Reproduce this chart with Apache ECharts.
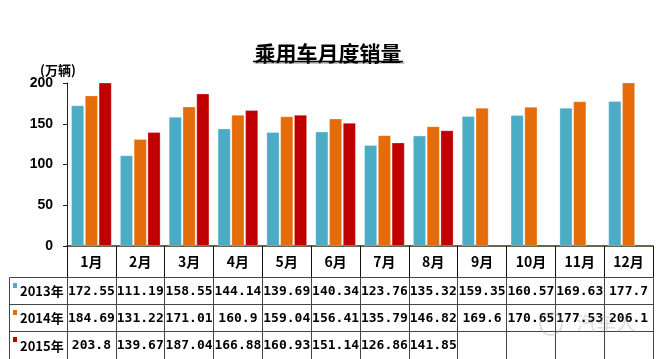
<!DOCTYPE html>
<html>
<head>
<meta charset="utf-8">
<script src="https://cdn.jsdelivr.net/npm/echarts@6/dist/echarts.min.js"></script>
<style>html,body{margin:0;padding:0;background:#fff;}#c{width:656px;height:359px;}</style>
</head>
<body>
<div id="c"></div>
<script>
var months = ['1月','2月','3月','4月','5月','6月','7月','8月','9月','10月','11月','12月'];
var s2013 = [172.55,111.19,158.55,144.14,139.69,140.34,123.76,135.32,159.35,160.57,169.63,177.7];
var s2014 = [184.69,131.22,171.01,160.9,159.04,156.41,135.79,146.82,169.6,170.65,177.53,206.1];
var s2015 = [203.8,139.67,187.04,166.88,160.93,151.14,126.86,141.85,null,null,null,null];
var years = ['2013年','2014年','2015年'];
var colors = ['#4BACC6','#E46C0A','#C00000'];
var yTicks = [0,50,100,150,200];

function fmt(arr){ return arr.map(function(v){ return v == null ? '' : String(v); }); }

var chart = echarts.init(document.getElementById('c'), null, {renderer:'canvas'});
var lineCol = '#444';
var valFont = {color:'#000', fontFamily:'DejaVu Sans Mono', fontWeight:'bold', fontSize:13};

function tableAxis(idx, arr, offset, tickLen, margin){
  return {
    type:'category', data: fmt(arr), position:'bottom', offset: offset, gridIndex:0,
    axisLine:{show:true, lineStyle:{color:lineCol, width:1}},
    axisTick:{show:true, length:tickLen, interval:0, lineStyle:{color:lineCol, width:1}},
    axisLabel:Object.assign({interval:0, margin:margin}, valFont),
    splitLine:{show:false}
  };
}

var option = {
  backgroundColor:'#fff',
  animation:false,
  title:{
    text:'乘用车月度销量', left:'center', top:38,
    textStyle:{fontFamily:'Noto Sans CJK SC', fontWeight:'bold', fontSize:21, color:'#000',
      textShadowColor:'rgba(0,0,0,0.35)', textShadowOffsetX:1.5, textShadowOffsetY:1.5, textShadowBlur:0}
  },
  grid:{left:67, right:3, top:83, bottom:113, containLabel:false},
  xAxis:[
    {
      type:'category', data: months, position:'bottom',
      axisLine:{show:true, lineStyle:{color:'#33331a', width:1.5}},
      axisTick:{show:true, length:31, interval:0, lineStyle:{color:'#111', width:1}},
      axisLabel:{interval:0, margin:9, color:'#000', fontFamily:'Noto Sans CJK SC', fontWeight:'bold', fontSize:14},
      splitLine:{show:false}
    },
    tableAxis(1, s2013, 31, 27, 8),
    tableAxis(2, s2014, 58, 27, 8),
    tableAxis(3, s2015, 85, 28, 8)
  ],
  yAxis:{
    type:'value', min:yTicks[0], max:yTicks[yTicks.length-1], interval:50,
    axisLine:{show:true, lineStyle:{color:'#222', width:1}},
    axisTick:{show:true, length:4, lineStyle:{color:'#222'}},
    axisLabel:{margin:14, color:'#000', fontFamily:'Liberation Sans', fontWeight:'bold', fontSize:14},
    splitLine:{show:false}
  },
  series:[s2013, s2014, s2015].map(function(d,i){
    return {
      type:'bar', name:years[i], data:d, xAxisIndex:0,
      barGap:'6%', barCategoryGap:'17%',
      itemStyle:{color:colors[i], borderColor:'rgba(255,255,255,0.35)', borderWidth:0.8},
      clip:true
    };
  }),
  graphic:[
    {type:'line', shape:{x1:253, y1:61.5, x2:403, y2:61.5}, style:{stroke:'#000', lineWidth:1.5}},
    {type:'line', shape:{x1:254.5, y1:63, x2:404.5, y2:63}, style:{stroke:'rgba(0,0,0,0.3)', lineWidth:1.5}},
    {type:'text', left:40, top:64, style:{text:'(万辆)', fill:'#000', font:'bold 13px "Noto Sans CJK SC"'}},
    {type:'line', shape:{x1:9.5, y1:277.5, x2:67, y2:277.5}, style:{stroke:lineCol, lineWidth:1}},
    {type:'line', shape:{x1:9.5, y1:304.5, x2:67, y2:304.5}, style:{stroke:lineCol, lineWidth:1}},
    {type:'line', shape:{x1:9.5, y1:331.5, x2:67, y2:331.5}, style:{stroke:lineCol, lineWidth:1}},
    {type:'line', shape:{x1:9.5, y1:277.5, x2:9.5, y2:359}, style:{stroke:lineCol, lineWidth:1}},
    {type:'rect', shape:{x:13, y:283, width:4, height:5}, style:{fill:colors[0]}},
    {type:'rect', shape:{x:13, y:310, width:4, height:5}, style:{fill:colors[1]}},
    {type:'rect', shape:{x:13, y:337, width:4, height:5}, style:{fill:colors[2]}},
    {type:'text', x:20, y:291, style:{text:years[0], fill:'#000', font:'bold 13px "Noto Sans CJK SC"', verticalAlign:'middle'}},
    {type:'text', x:20, y:318, style:{text:years[1], fill:'#000', font:'bold 13px "Noto Sans CJK SC"', verticalAlign:'middle'}},
    {type:'text', x:20, y:346, style:{text:years[2], fill:'#000', font:'bold 13px "Noto Sans CJK SC"', verticalAlign:'middle'}},
    {type:'text', x:576, y:323, z:100, style:{text:'汽车人', fill:'rgba(160,160,160,0.35)', font:'20px "Noto Sans CJK SC"', verticalAlign:'middle'}},
    {type:'circle', z:100, shape:{cx:551, cy:324, r:11}, style:{fill:'none', stroke:'rgba(160,160,160,0.4)', lineWidth:1.5}}
  ]
};
chart.setOption(option);
</script>
</body>
</html>
